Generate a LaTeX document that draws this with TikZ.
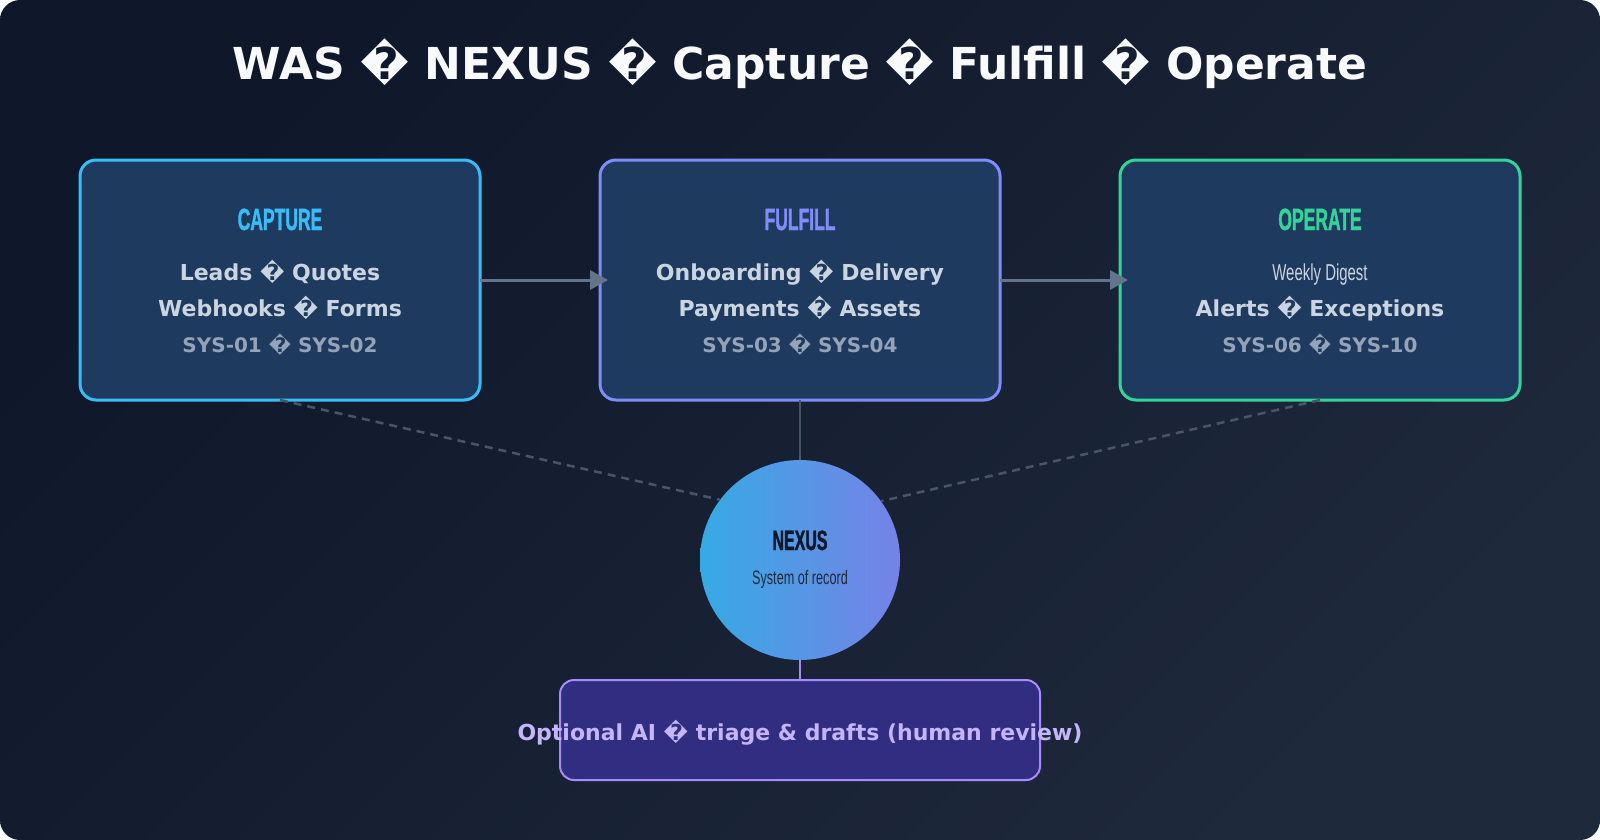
\documentclass[tikz,border=0pt]{standalone}
\usepackage{fontspec}
\setmainfont{DejaVu Sans}
\newfontfamily\condB[FakeStretch=0.57,FakeBold=1.2,UprightFont=* Bold]{Liberation Sans}
\newfontfamily\condL[FakeStretch=0.65]{Liberation Sans}
\usetikzlibrary{arrows.meta}
\definecolor{bgA}{HTML}{0F172A}
\definecolor{bgB}{HTML}{1E293B}
\definecolor{boxfill}{HTML}{1E3A5F}
\definecolor{capC}{HTML}{38BDF8}
\definecolor{fulC}{HTML}{818CF8}
\definecolor{opC}{HTML}{34D399}
\definecolor{txtA}{HTML}{CBD5E1}
\definecolor{txtB}{HTML}{94A3B8}
\definecolor{titleC}{HTML}{F8FAFC}
\definecolor{arrowC}{HTML}{64748B}
\definecolor{linkC}{HTML}{475569}
\definecolor{nexL}{HTML}{36AAE4}
\definecolor{nexR}{HTML}{7682E6}
\definecolor{nexT}{HTML}{0F172A}
\definecolor{nexS}{HTML}{1E293B}
\definecolor{aiFill}{HTML}{312E81}
\definecolor{aiLine}{HTML}{A78BFA}
\definecolor{aiText}{HTML}{C4B5FD}
\begin{document}
\begin{tikzpicture}[x=1pt,y=-1pt,
  stagebox/.style={draw, line width=3pt, fill=boxfill, rounded corners=16pt,
    minimum width=400pt, minimum height=240pt, inner sep=0pt, outer sep=0pt},
  hd/.style={anchor=base, inner sep=0pt, font=\condB\fontsize{30.7}{34}\selectfont},
  lineA/.style={anchor=base, inner sep=0pt, text=txtA, font=\bfseries\fontsize{22}{26}\selectfont},
  lineB/.style={anchor=base, inner sep=0pt, text=txtB, font=\bfseries\fontsize{20}{24}\selectfont},
  lineL/.style={anchor=base, inner sep=0pt, text=txtA, font=\condL\fontsize{23}{26}\selectfont},
  flow/.style={draw=arrowC, line width=3pt, -{Triangle[length=18pt,width=19pt]}},
  link/.style={draw=linkC, line width=2pt},
  dlink/.style={draw=linkC, line width=2.5pt, dash pattern=on 8pt off 6pt}]
\useasboundingbox (0,0) rectangle (1600,840);
\fill[white] (0,0) rectangle (1600,840);
\shade[rounded corners=20pt, top color=bgA, bottom color=bgB, shading angle=45] (0,0) rectangle (1600,840);

\node[anchor=base, inner sep=0pt, text=titleC, font=\bfseries\fontsize{44}{50}\selectfont] (title) at (800,80) {WAS � NEXUS � Capture � Fulfill � Operate};

% stage boxes
\node[stagebox, draw=capC] (cap) at (280,280) {};
\node[stagebox, draw=fulC] (ful) at (800,280) {};
\node[stagebox, draw=opC] (op) at (1320,280) {};

\node[hd, text=capC] (capH) at (280,230) {CAPTURE};
\node[lineA] (capA) at (280,280) {Leads � Quotes};
\node[lineA] (capB) at (280,316) {Webhooks � Forms};
\node[lineB] (capS) at (280,352) {SYS-01 � SYS-02};

\node[hd, text=fulC] (fulH) at (800,230) {FULFILL};
\node[lineA] (fulA) at (800,280) {Onboarding � Delivery};
\node[lineA] (fulB) at (800,316) {Payments � Assets};
\node[lineB] (fulS) at (800,352) {SYS-03 � SYS-04};

\node[hd, text=opC] (opH) at (1320,230) {OPERATE};
\node[lineL] (opA) at (1320,280) {Weekly Digest};
\node[lineA] (opB) at (1320,316) {Alerts � Exceptions};
\node[lineB] (opS) at (1320,352) {SYS-06 � SYS-10};

% nexus
\node[circle, minimum size=200pt, inner sep=0pt, outer sep=0pt, left color=nexL, right color=nexR] (nexus) at (800,560) {};
\node[anchor=base, inner sep=0pt, text=nexT, font=\condB\fontsize{28}{32}\selectfont] (nexH) at (800,550) {NEXUS};
\node[anchor=base, inner sep=0pt, text=nexS, font=\condL\fontsize{19.5}{22}\selectfont] (nexS) at (800,584) {System of record};

% AI box
\node[draw=aiLine, line width=2pt, fill=aiFill, rounded corners=14pt, minimum width=480pt, minimum height=100pt, inner sep=0pt, outer sep=0pt] (ai) at (800,730) {};
\node[anchor=base, inner sep=0pt, text=aiText, font=\bfseries\fontsize{22}{26}\selectfont] (aiT) at (800,740) {Optional AI � triage \& drafts (human review)};

% connectors
\draw[flow] (cap.east) -- ([xshift=8pt]ful.west);
\draw[flow] (ful.east) -- ([xshift=8pt]op.west);
\draw[link] (ful.south) -- (nexus.north);
\draw[dlink] (cap.south) -- (nexus.143.13);
\draw[dlink] (op.south) -- (nexus.36.87);
\draw[draw=aiLine, line width=2pt] (nexus.south) -- (ai.north);
\end{tikzpicture}
\end{document}
